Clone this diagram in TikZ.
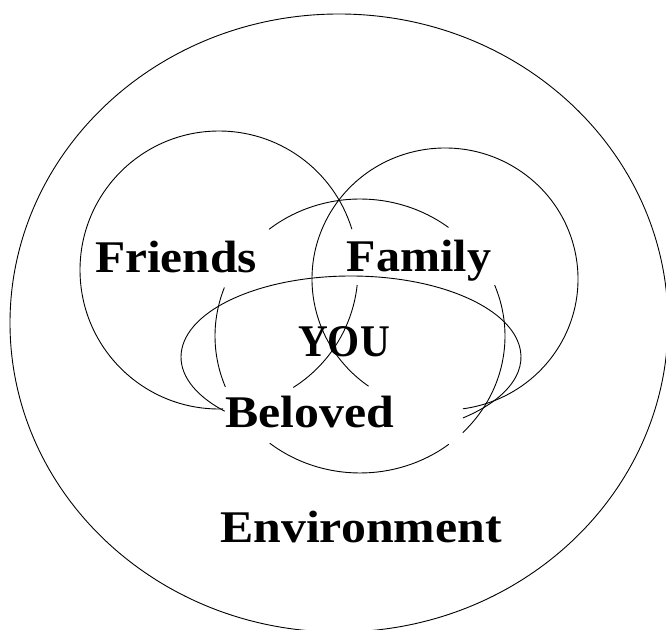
\documentclass[tikz,border=0pt]{standalone}
\usepackage{fontspec}
\usepackage{graphicx}
\setmainfont{Liberation Serif}
\begin{document}
\begin{tikzpicture}[x=1pt,y=1pt,
  ring/.style={draw=black,line width=0.9pt},
  word/.style={inner sep=0pt,anchor=base,text=black,
    font=\fontsize{45.3}{54}\selectfont\bfseries}]
\clip (0,0) rectangle (666,629);

% outer circle: the environment
\draw[ring] (339,306) ellipse [x radius=329, y radius=309];

% friends circle
\draw[ring] (219,359) ++(-6.2:139) arc[start angle=-6.2, end angle=-57.7, radius=139];
\draw[ring] (219,359) ++(-88.3:139) arc[start angle=-88.3, end angle=-342.9, radius=139];

% family circle
\draw[ring] (445,350) ++(-125.1:133 and 131)
  arc[start angle=-125.1, end angle=-442.3, x radius=133, y radius=131];

% beloved circle, broken where the labels sit
\draw[ring] (360,293) ++(-231.2:145 and 137)
  arc[start angle=-231.2, end angle=-307.6, x radius=145, y radius=137];
\draw[ring] (360,293) ++(21.8:145 and 137)
  arc[start angle=21.8, end angle=-44.9, x radius=145, y radius=137];
\draw[ring] (360,293) ++(-52.2:145 and 137)
  arc[start angle=-52.2, end angle=-128.5, x radius=145, y radius=137];
\draw[ring] (360,293) ++(-158.2:145 and 137)
  arc[start angle=-158.2, end angle=-200.7, x radius=145, y radius=137];

% wide ellipse round the centre
\draw[ring] (351,272) ++(-138:170 and 81)
  arc[start angle=-138, end angle=-408.8, x radius=170, y radius=81];

% labels
\node[word] (friends) at (176,356) {\scalebox{1.09}[1]{Friends}};
\node[word] (family)  at (419,357) {\scalebox{1.06}[1]{Family}};
\node[word] (you)     at (344,272) {\scalebox{0.91}[1]{YOU}};
\node[word] (beloved) at (310,201) {\scalebox{1.1}[1]{Beloved}};
\node[word] (env)     at (361,87)  {\scalebox{1.1}[1]{Environment}};
\end{tikzpicture}
\end{document}
